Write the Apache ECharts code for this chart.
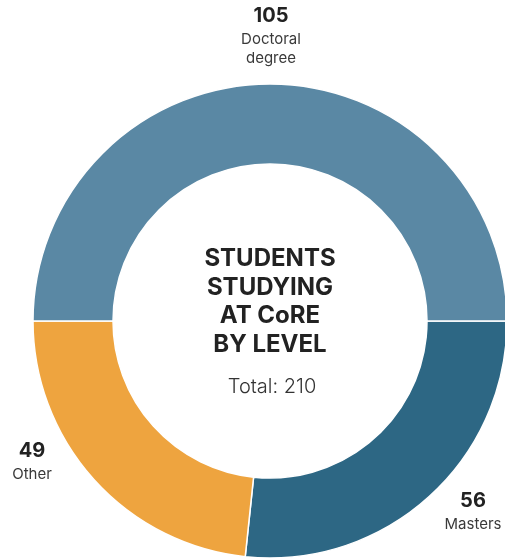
<!DOCTYPE html>
<html>
<head>
<meta charset="utf-8">
<script src="https://cdn.jsdelivr.net/npm/echarts@6/dist/echarts.min.js"></script>
<style>
html,body{margin:0;padding:0;background:#fff;}
#c{width:505px;height:558px;}
</style>
</head>
<body>
<div id="c"></div>
<script>
var categories = ['Masters', 'Other', 'Doctoral degree'];
var labelLines = [['Masters'], ['Other'], ['Doctoral', 'degree']];
var values = [56, 49, 105];
var colors = ['#2d6784', '#eea43f', '#5a88a4'];
var titleLines = ['STUDENTS', 'STUDYING', 'AT CoRE', 'BY LEVEL'];
var totalLabel = 'Total: ';

var FONT = 'Inter, "Liberation Sans", sans-serif';
var total = values.reduce(function (a, b) { return a + b; }, 0);

var chart = echarts.init(document.getElementById('c'), null, { renderer: 'canvas' });

var labelPos = [
  { x: 473, y: 491 },
  { x: 32, y: 441 },
  { x: 271, y: 6 }
];

var graphics = [];
categories.forEach(function (c, i) {
  graphics.push({
    type: 'text', x: labelPos[i].x, y: labelPos[i].y,
    style: {
      text: String(values[i]), font: 'bold 20px ' + FONT, fill: '#222',
      textAlign: 'center', textVerticalAlign: 'top'
    }
  });
  graphics.push({
    type: 'text', x: labelPos[i].x, y: labelPos[i].y + 24,
    style: {
      text: labelLines[i].join('\n'), font: '15px ' + FONT, fill: '#3a3a3a',
      textAlign: 'center', textVerticalAlign: 'top', lineHeight: 19
    }
  });
});

graphics.push({
  type: 'text', x: 270, y: 245,
  style: {
    text: titleLines.join('\n'), font: 'bold 24px ' + FONT, fill: '#222',
    textAlign: 'center', textVerticalAlign: 'top', lineHeight: 28.5
  }
});
graphics.push({
  type: 'text', x: 272, y: 377,
  style: {
    text: totalLabel + total, font: '300 20px ' + FONT, fill: '#333',
    textAlign: 'center', textVerticalAlign: 'top'
  }
});

chart.setOption({
  animation: false,
  series: [{
    type: 'pie',
    center: [270, 321],
    radius: [157, 237],
    startAngle: 0,
    clockwise: true,
    avoidLabelOverlap: false,
    label: { show: false },
    labelLine: { show: false },
    itemStyle: { borderColor: '#fff', borderWidth: 1.5 },
    emphasis: { disabled: true },
    data: categories.map(function (c, i) {
      return { name: c, value: values[i], itemStyle: { color: colors[i] } };
    })
  }],
  graphic: graphics
});
</script>
</body>
</html>
